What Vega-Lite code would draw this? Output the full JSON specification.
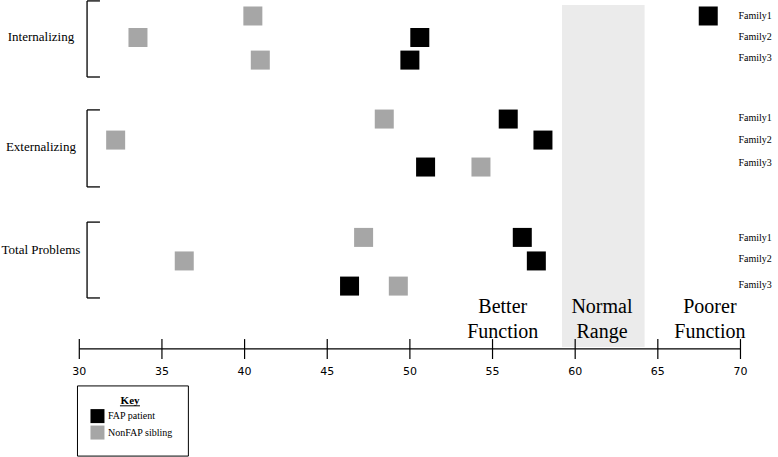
{
  "$schema": "https://vega.github.io/schema/vega-lite/v6.json",
  "width": 778,
  "height": 457,
  "autosize": {"type": "fit", "contains": "padding"},
  "padding": 0,
  "background": "white",
  "config": {"view": {"stroke": null}, "axis": {"disable": true}},
  "datasets": {
    "ranges": [{"name": "Normal Range", "from": 59.2, "to": 64.2}],
    "groups": [
      {"measure": "Internalizing", "top": 0.04, "bottom": 3.37, "labelRow": 1.62},
      {"measure": "Externalizing", "top": 4.81, "bottom": 8.18, "labelRow": 6.43},
      {"measure": "Total Problems", "top": 9.72, "bottom": 13.04, "labelRow": 10.94}
    ],
    "points": [
      {"measure": "Internalizing", "family": "Family1", "role": "FAP patient", "score": 68.05, "row": 0.70},
      {"measure": "Internalizing", "family": "Family1", "role": "NonFAP sibling", "score": 40.5, "row": 0.70},
      {"measure": "Internalizing", "family": "Family2", "role": "FAP patient", "score": 50.6, "row": 1.64},
      {"measure": "Internalizing", "family": "Family2", "role": "NonFAP sibling", "score": 33.55, "row": 1.64},
      {"measure": "Internalizing", "family": "Family3", "role": "FAP patient", "score": 50.0, "row": 2.63},
      {"measure": "Internalizing", "family": "Family3", "role": "NonFAP sibling", "score": 40.95, "row": 2.63},
      {"measure": "Externalizing", "family": "Family1", "role": "FAP patient", "score": 55.95, "row": 5.21},
      {"measure": "Externalizing", "family": "Family1", "role": "NonFAP sibling", "score": 48.45, "row": 5.21},
      {"measure": "Externalizing", "family": "Family2", "role": "FAP patient", "score": 58.05, "row": 6.13},
      {"measure": "Externalizing", "family": "Family2", "role": "NonFAP sibling", "score": 32.2, "row": 6.13},
      {"measure": "Externalizing", "family": "Family3", "role": "FAP patient", "score": 50.95, "row": 7.31},
      {"measure": "Externalizing", "family": "Family3", "role": "NonFAP sibling", "score": 54.3, "row": 7.31},
      {"measure": "Total Problems", "family": "Family1", "role": "FAP patient", "score": 56.8, "row": 10.39},
      {"measure": "Total Problems", "family": "Family1", "role": "NonFAP sibling", "score": 47.2, "row": 10.39},
      {"measure": "Total Problems", "family": "Family2", "role": "FAP patient", "score": 57.65, "row": 11.42},
      {"measure": "Total Problems", "family": "Family2", "role": "NonFAP sibling", "score": 36.35, "row": 11.42},
      {"measure": "Total Problems", "family": "Family3", "role": "FAP patient", "score": 46.35, "row": 12.52},
      {"measure": "Total Problems", "family": "Family3", "role": "NonFAP sibling", "score": 49.3, "row": 12.52}
    ],
    "families": [
      {"measure": "Internalizing", "family": "Family1", "row": 0.70},
      {"measure": "Internalizing", "family": "Family2", "row": 1.62},
      {"measure": "Internalizing", "family": "Family3", "row": 2.54},
      {"measure": "Externalizing", "family": "Family1", "row": 5.16},
      {"measure": "Externalizing", "family": "Family2", "row": 6.13},
      {"measure": "Externalizing", "family": "Family3", "row": 7.13},
      {"measure": "Total Problems", "family": "Family1", "row": 10.42},
      {"measure": "Total Problems", "family": "Family2", "row": 11.33},
      {"measure": "Total Problems", "family": "Family3", "row": 12.47}
    ],
    "axisExtent": [{"from": 30, "to": 70}],
    "ticks": [{"value": 30}, {"value": 35}, {"value": 40}, {"value": 45}, {"value": 50}, {"value": 55}, {"value": 60}, {"value": 65}, {"value": 70}],
    "regions": [
      {"label": ["Better", "Function"], "center": 55.62},
      {"label": ["Normal", "Range"], "center": 61.62},
      {"label": ["Poorer", "Function"], "center": 68.15}
    ],
    "key": [{"title": "Key"}],
    "legend": [
      {"role": "FAP patient", "row": 18.21},
      {"role": "NonFAP sibling", "row": 18.93}
    ]
  },
  "layer": [
    {
      "data": {"name": "ranges"},
      "mark": {"type": "rect", "fill": "#ebebeb"},
      "encoding": {
        "x": {"field": "from", "type": "quantitative", "scale": {"domain": [25.203, 72.27], "nice": false, "zero": false}, "axis": null},
        "x2": {"field": "to"},
        "y": {"datum": 0.22, "type": "quantitative", "scale": {"domain": [0, 20], "reverse": true, "nice": false, "zero": false}, "axis": null},
        "y2": {"datum": 15.19}
      }
    },
    {
      "data": {"name": "groups"},
      "mark": {"type": "rule", "stroke": "#000000", "strokeWidth": 1.3},
      "encoding": {
        "x": {"datum": 30.47, "type": "quantitative"},
        "y": {"field": "top", "type": "quantitative"},
        "y2": {"field": "bottom"}
      }
    },
    {
      "data": {"name": "groups"},
      "mark": {"type": "rule", "stroke": "#000000", "strokeWidth": 1.3},
      "encoding": {
        "x": {"datum": 30.47, "type": "quantitative"},
        "x2": {"datum": 31.25},
        "y": {"field": "top", "type": "quantitative"}
      }
    },
    {
      "data": {"name": "groups"},
      "mark": {"type": "rule", "stroke": "#000000", "strokeWidth": 1.3},
      "encoding": {
        "x": {"datum": 30.47, "type": "quantitative"},
        "x2": {"datum": 31.25},
        "y": {"field": "bottom", "type": "quantitative"}
      }
    },
    {
      "data": {"name": "groups"},
      "mark": {"type": "text", "font": "Liberation Serif", "fontSize": 13, "align": "center", "baseline": "middle", "fill": "#000000"},
      "encoding": {
        "x": {"datum": 27.68, "type": "quantitative"},
        "y": {"field": "labelRow", "type": "quantitative"},
        "text": {"field": "measure"}
      }
    },
    {
      "data": {"name": "points"},
      "mark": {"type": "point", "shape": "square", "filled": true, "size": 361, "opacity": 1, "strokeWidth": 0},
      "encoding": {
        "x": {"field": "score", "type": "quantitative"},
        "y": {"field": "row", "type": "quantitative"},
        "color": {"field": "role", "type": "nominal", "scale": {"domain": ["FAP patient", "NonFAP sibling"], "range": ["#000000", "#a6a6a6"]}, "legend": null}
      }
    },
    {
      "data": {"name": "families"},
      "mark": {"type": "text", "font": "Liberation Serif", "fontSize": 10, "align": "left", "baseline": "middle", "fill": "#000000"},
      "encoding": {
        "x": {"datum": 69.88, "type": "quantitative"},
        "y": {"field": "row", "type": "quantitative"},
        "text": {"field": "family"}
      }
    },
    {
      "data": {"name": "axisExtent"},
      "mark": {"type": "rule", "stroke": "#000000", "strokeWidth": 1.2},
      "encoding": {
        "x": {"field": "from", "type": "quantitative"},
        "x2": {"field": "to"},
        "y": {"datum": 15.27, "type": "quantitative"}
      }
    },
    {
      "data": {"name": "ticks"},
      "mark": {"type": "rule", "stroke": "#000000", "strokeWidth": 1.2},
      "encoding": {
        "x": {"field": "value", "type": "quantitative"},
        "y": {"datum": 14.84, "type": "quantitative"},
        "y2": {"datum": 15.71}
      }
    },
    {
      "data": {"name": "ticks"},
      "mark": {"type": "text", "font": "DejaVu Sans", "fontSize": 11, "align": "center", "baseline": "middle", "fill": "#000000"},
      "encoding": {
        "x": {"field": "value", "type": "quantitative"},
        "y": {"datum": 16.28, "type": "quantitative"},
        "text": {"field": "value", "type": "quantitative"}
      }
    },
    {
      "data": {"name": "regions"},
      "mark": {"type": "text", "font": "Liberation Serif", "fontSize": 20, "lineHeight": 25, "align": "center", "baseline": "alphabetic", "fill": "#000000"},
      "encoding": {
        "x": {"field": "center", "type": "quantitative"},
        "y": {"datum": 13.70, "type": "quantitative"},
        "text": {"field": "label"}
      }
    },
    {
      "data": {"name": "key"},
      "mark": {"type": "rect", "fill": "#ffffff", "stroke": "#000000", "strokeWidth": 1},
      "encoding": {
        "x": {"datum": 29.89, "type": "quantitative"},
        "x2": {"datum": 36.60},
        "y": {"datum": 16.89, "type": "quantitative"},
        "y2": {"datum": 19.96}
      }
    },
    {
      "data": {"name": "key"},
      "mark": {"type": "text", "font": "Liberation Serif", "fontSize": 11, "fontWeight": "bold", "align": "center", "baseline": "alphabetic", "fill": "#000000"},
      "encoding": {
        "x": {"datum": 33.07, "type": "quantitative"},
        "y": {"datum": 17.68, "type": "quantitative"},
        "text": {"field": "title"}
      }
    },
    {
      "data": {"name": "key"},
      "mark": {"type": "rule", "stroke": "#000000", "strokeWidth": 1},
      "encoding": {
        "x": {"datum": 32.46, "type": "quantitative"},
        "x2": {"datum": 33.67},
        "y": {"datum": 17.76, "type": "quantitative"}
      }
    },
    {
      "data": {"name": "legend"},
      "mark": {"type": "point", "shape": "square", "filled": true, "size": 196, "opacity": 1, "strokeWidth": 0},
      "encoding": {
        "x": {"datum": 31.10, "type": "quantitative"},
        "y": {"field": "row", "type": "quantitative"},
        "color": {"field": "role", "type": "nominal", "legend": null}
      }
    },
    {
      "data": {"name": "legend"},
      "mark": {"type": "text", "font": "Liberation Serif", "fontSize": 10, "align": "left", "baseline": "middle", "fill": "#000000"},
      "encoding": {
        "x": {"datum": 31.74, "type": "quantitative"},
        "y": {"field": "row", "type": "quantitative"},
        "text": {"field": "role"}
      }
    }
  ]
}
